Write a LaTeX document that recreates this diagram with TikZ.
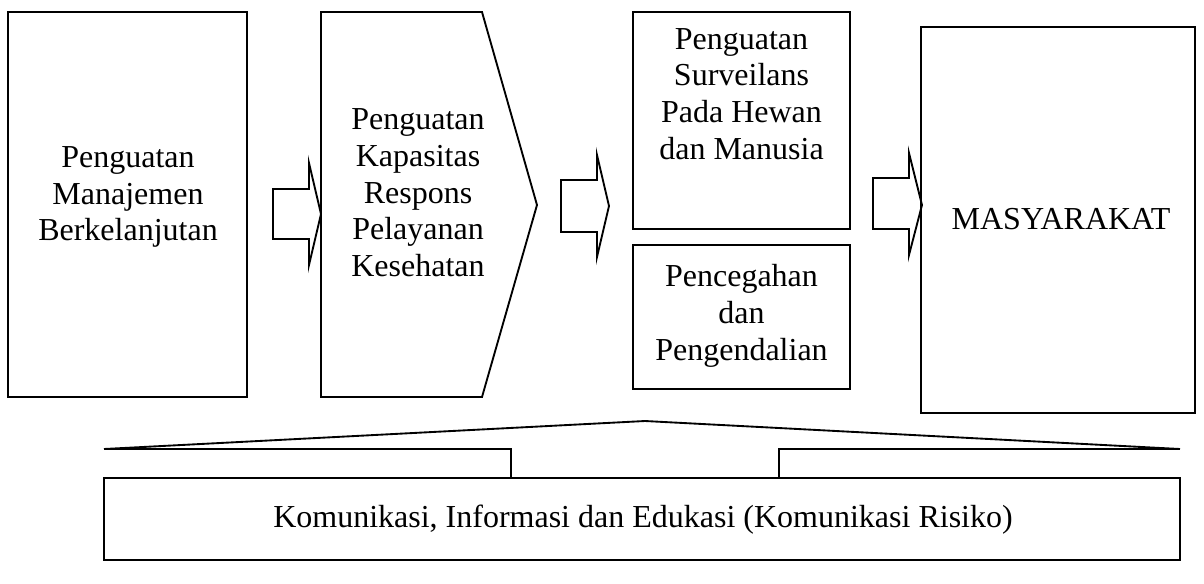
\documentclass[tikz,border=0pt]{standalone}
\usepackage{fontspec}
\setmainfont{Liberation Serif}
\begin{document}
\begin{tikzpicture}[x=0.75pt,y=-0.75pt,
  every node/.style={font=\fontsize{24}{27.5}\selectfont, align=center, inner sep=0pt},
  ln/.style={line width=1.4pt, line join=miter},
  blockarrow/.style={ln}]
\useasboundingbox (0,0) rectangle (1204,583);
% main boxes
\draw[ln] (8,12) rectangle (247,397);
\node (b1) at (128,197) {Penguatan\\Manajemen\\Berkelanjutan};
\draw[ln] (321,12) -- (482,12) -- (537,205) -- (482,397) -- (321,397) -- cycle;
\node (b2) at (418,193) {Penguatan\\Kapasitas\\Respons\\Pelayanan\\Kesehatan};
\draw[ln] (633,12) rectangle (850,229);
\node (b3) at (741.5,94) {Penguatan\\Surveilans\\Pada Hewan\\dan Manusia};
\draw[ln] (633,245) rectangle (850,389);
\node (b4) at (741.5,316) {Pencegahan\\dan\\Pengendalian};
\draw[ln] (921,27) rectangle (1195,413);
\node (b5) at (1061,219) {MASYARAKAT};
% block arrows
\draw[blockarrow] (273,189) -- (309,189) -- (309,163) -- (321,214) -- (309,265) -- (309,239) -- (273,239) -- cycle;
\draw[blockarrow] (561,180) -- (597,180) -- (597,155) -- (609,206) -- (597,257) -- (597,232) -- (561,232) -- cycle;
\draw[blockarrow] (873,178) -- (909,178) -- (909,153) -- (922,205) -- (909,255) -- (909,229) -- (873,229) -- cycle;
% bottom roof
\draw[ln] (104,449) -- (645,421) -- (1180,449);
\draw[ln] (104,449) -- (511,449) -- (511,478);
\draw[ln] (779,478) -- (779,449) -- (1180,449);
\draw[ln] (104,478) rectangle (1180,560);
\node (b6) at (643,520) {Komunikasi, Informasi dan Edukasi (Komunikasi Risiko)};
\end{tikzpicture}
\end{document}
